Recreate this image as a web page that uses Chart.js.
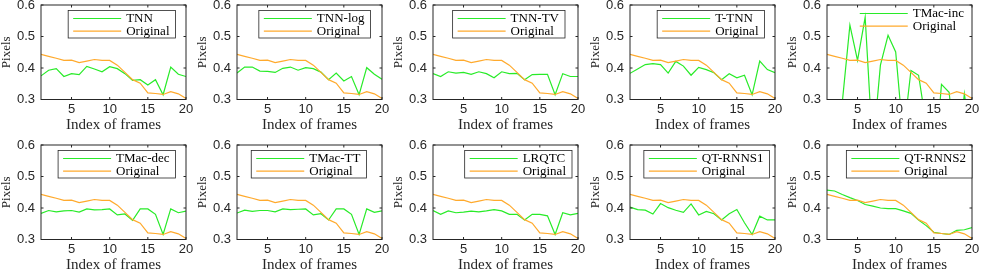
<!DOCTYPE html>
<html>
<head>
<meta charset="utf-8">
<script src="https://cdn.jsdelivr.net/npm/chart.js@4.4.0/dist/chart.umd.min.js"></script>
<style>
  html, body { margin: 0; padding: 0; background: #fff; overflow: hidden; }
  #wrap { position: relative; width: 981px; height: 273px; }
  .panel { position: absolute; }
</style>
</head>
<body>
<div id="wrap"></div>
<script>
// frame index (x) and tick labels
const frames = [1, 2, 3, 4, 5, 6, 7, 8, 9, 10, 11, 12, 13, 14, 15, 16, 17, 18, 19, 20];
const xTicks = [5, 10, 15, 20];
const yTicks = [0.3, 0.4, 0.5, 0.6];

// the reference curve, same in every panel
const original = [0.443, 0.437, 0.431, 0.424, 0.425, 0.417, 0.422, 0.427, 0.424, 0.424,
                  0.409, 0.386, 0.363, 0.352, 0.321, 0.319, 0.316, 0.325, 0.318, 0.303];

// one series per method
const tnn      = [0.375, 0.393, 0.398, 0.373, 0.382, 0.379, 0.405, 0.397, 0.388, 0.404,
                  0.398, 0.382, 0.361, 0.363, 0.346, 0.363, 0.315, 0.403, 0.380, 0.373];
const tnnLog   = [0.384, 0.403, 0.403, 0.390, 0.389, 0.386, 0.399, 0.403, 0.393, 0.401,
                  0.398, 0.387, 0.363, 0.384, 0.359, 0.373, 0.315, 0.401, 0.380, 0.364];
const tnnTv    = [0.382, 0.373, 0.388, 0.384, 0.386, 0.380, 0.388, 0.382, 0.369, 0.388,
                  0.382, 0.383, 0.363, 0.379, 0.380, 0.380, 0.315, 0.382, 0.373, 0.373];
const tTnn     = [0.383, 0.397, 0.411, 0.414, 0.411, 0.384, 0.421, 0.406, 0.377, 0.402,
                  0.395, 0.385, 0.363, 0.382, 0.369, 0.377, 0.315, 0.422, 0.395, 0.385];
const tmacInc  = [0.200, 0.150, 0.290, 0.536, 0.424, 0.561, 0.140, 0.409, 0.504, 0.451,
                  0.180, 0.392, 0.377, 0.220, 0.050, 0.348, 0.323, 0.100, 0.318, 0.150];
const tmacDec  = [0.383, 0.392, 0.388, 0.391, 0.392, 0.387, 0.397, 0.394, 0.395, 0.397,
                  0.378, 0.381, 0.361, 0.397, 0.397, 0.380, 0.316, 0.397, 0.385, 0.390];
const tmacTt   = [0.384, 0.393, 0.389, 0.392, 0.392, 0.388, 0.397, 0.395, 0.396, 0.397,
                  0.378, 0.382, 0.362, 0.397, 0.397, 0.380, 0.316, 0.397, 0.386, 0.391];
const lrqtc    = [0.392, 0.380, 0.391, 0.385, 0.387, 0.390, 0.388, 0.391, 0.395, 0.391,
                  0.380, 0.380, 0.362, 0.380, 0.380, 0.375, 0.316, 0.385, 0.378, 0.383];
const qtRnns1  = [0.403, 0.395, 0.393, 0.381, 0.414, 0.401, 0.393, 0.386, 0.413, 0.378,
                  0.389, 0.382, 0.362, 0.382, 0.395, 0.353, 0.316, 0.374, 0.362, 0.362];
const qtRnns2  = [0.457, 0.454, 0.443, 0.433, 0.424, 0.411, 0.406, 0.400, 0.398, 0.398,
                  0.391, 0.383, 0.362, 0.344, 0.323, 0.319, 0.316, 0.329, 0.331, 0.338];

const methodNames  = ['TNN', 'TNN-log', 'TNN-TV', 'T-TNN', 'TMac-inc',
                      'TMac-dec', 'TMac-TT', 'LRQTC', 'QT-RNNS1', 'QT-RNNS2'];
const methodValues = [tnn, tnnLog, tnnTv, tTnn, tmacInc, tmacDec, tmacTt, lrqtc, qtRnns1, qtRnns2];

// legend placement per panel (gap to the right edge of the axes)
const legendGap = [10.5, 11.5, 13, 10.5, 2, 10.5, 15.5, 6, 5.5, 0];

const GREEN = 'rgb(40,235,40)';
const ORANGE = 'rgb(255,170,45)';
const AXIS = '#262626';
const SERIF = '"Liberation Serif", "Times New Roman", serif';
const SANS = '"Liberation Sans", Arial, sans-serif';

// box around the axes with inward ticks, like matlab
const framePlugin = {
  id: 'frame',
  afterDatasetsDraw(chart) {
    const { ctx, chartArea: a, scales } = chart;
    ctx.save();
    ctx.strokeStyle = AXIS;
    ctx.lineWidth = 1;
    ctx.strokeRect(a.left, a.top, a.width, a.height);
    ctx.beginPath();
    xTicks.forEach(v => {
      const px = scales.x.getPixelForValue(v);
      ctx.moveTo(px, a.bottom); ctx.lineTo(px, a.bottom - 2.5);
      ctx.moveTo(px, a.top); ctx.lineTo(px, a.top + 2.5);
    });
    yTicks.forEach(v => {
      const py = scales.y.getPixelForValue(v);
      ctx.moveTo(a.left, py); ctx.lineTo(a.left + 2.5, py);
      ctx.moveTo(a.right, py); ctx.lineTo(a.right - 2.5, py);
    });
    ctx.stroke();
    ctx.restore();
  }
};

// legend with long line samples in the north east corner
const legendPlugin = {
  id: 'boxLegend',
  afterDatasetsDraw(chart, args, opts) {
    const { ctx, chartArea: a } = chart;
    const sets = chart.data.datasets;
    ctx.save();
    ctx.font = '13px ' + SERIF;
    const textW = Math.max(...sets.map(d => ctx.measureText(d.label).width));
    const w = textW + 64;
    const right = a.right - opts.gap;
    const left = right - w;
    const top = a.top + opts.top;
    if (opts.boxed) {
      ctx.fillStyle = '#fff';
      ctx.fillRect(left, top, w, 27.5);
      ctx.strokeStyle = AXIS;
      ctx.lineWidth = 0.8;
      ctx.strokeRect(left, top, w, 27.5);
    }
    sets.forEach((d, i) => {
      const yy = top + 8 + i * 12.7;
      ctx.strokeStyle = d.borderColor;
      ctx.lineWidth = 1.2;
      ctx.beginPath();
      ctx.moveTo(left + 5, yy);
      ctx.lineTo(left + 53, yy);
      ctx.stroke();
      ctx.fillStyle = '#000';
      ctx.textBaseline = 'middle';
      ctx.textAlign = 'left';
      ctx.fillText(d.label, left + 58, yy + 0.5);
    });
    ctx.restore();
  }
};

const wrap = document.getElementById('wrap');
const colLeft = [0, 196, 392, 589, 786];
const rowTop = [0, 140];

methodNames.forEach((name, i) => {
  const canvas = document.createElement('canvas');
  canvas.className = 'panel';
  canvas.width = 196;
  canvas.height = 136;
  canvas.style.left = colLeft[i % 5] + 'px';
  canvas.style.top = rowTop[Math.floor(i / 5)] + 'px';
  wrap.appendChild(canvas);

  const vals = methodValues[i];
  new Chart(canvas, {
    type: 'line',
    data: {
      datasets: [
        { label: name, data: frames.map((f, k) => ({ x: f, y: vals[k] })),
          borderColor: GREEN, borderWidth: 1.2, pointRadius: 0, tension: 0, order: 1 },
        { label: 'Original', data: frames.map((f, k) => ({ x: f, y: original[k] })),
          borderColor: ORANGE, borderWidth: 1.2, pointRadius: 0, tension: 0, order: 0 }
      ]
    },
    options: {
      responsive: false,
      animation: false,
      events: [],
      layout: { padding: { top: 5, right: 10, left: 0, bottom: 0 } },
      plugins: {
        legend: { display: false },
        tooltip: { enabled: false },
        boxLegend: { gap: legendGap[i], boxed: i !== 4, top: i === 4 ? 0.5 : 5.5 }
      },
      scales: {
        x: {
          type: 'linear', min: 1, max: 20,
          afterBuildTicks: s => { s.ticks = xTicks.map(v => ({ value: v })); },
          grid: { display: false, drawTicks: false },
          border: { display: false },
          ticks: { font: { family: SANS, size: 13 }, color: AXIS, padding: 2, maxRotation: 0, autoSkip: false },
          title: { display: true, text: 'Index of frames', color: AXIS,
                   font: { family: SERIF, size: 15 }, padding: { top: 0, bottom: 2 } },
          afterFit: s => { s.height = 36.5; s.paddingLeft = 0; s.paddingRight = 0; }
        },
        y: {
          min: 0.3, max: 0.6,
          afterBuildTicks: s => { s.ticks = yTicks.map(v => ({ value: v })); },
          grid: { display: false, drawTicks: false },
          border: { display: false },
          ticks: { font: { family: SANS, size: 13 }, color: AXIS, padding: 6,
                   callback: v => v.toFixed(1) },
          title: { display: true, text: 'Pixels', color: AXIS,
                   font: { family: SERIF, size: 13, lineHeight: 1 }, padding: 0 },
          afterFit: s => { s.width = 41; s.paddingTop = 0; s.paddingBottom = 0; }
        }
      }
    },
    plugins: [framePlugin, legendPlugin]
  });
});
</script>
</body>
</html>
